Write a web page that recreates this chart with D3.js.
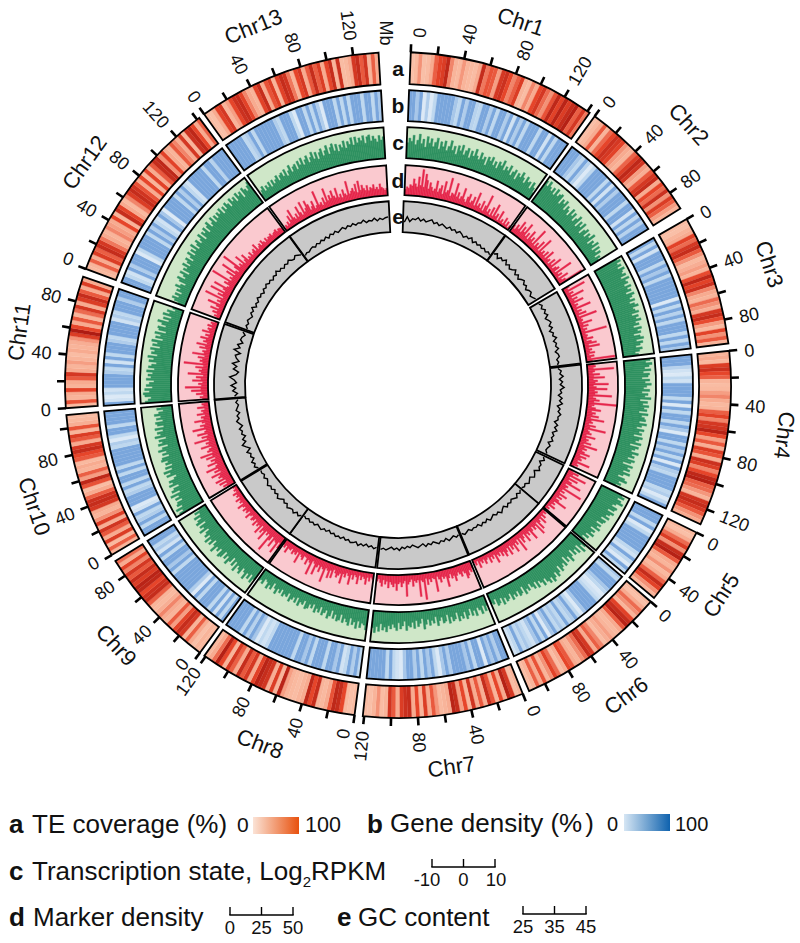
<!DOCTYPE html>
<html><head><meta charset="utf-8">
<script src="https://cdn.jsdelivr.net/npm/d3@7"></script>
<style>html,body{margin:0;padding:0;background:#fff}svg{display:block;font-family:"Liberation Sans",Arial,sans-serif;fill:#111}</style>
</head><body><svg id="c" width="800" height="943"></svg>
<script>
const chrNames=["Chr1","Chr2","Chr3","Chr4","Chr5","Chr6","Chr7","Chr8","Chr9","Chr10","Chr11","Chr12","Chr13"];
const chrLengths=[142,94,98,132,58,113,121,121,93,110,99,142,139];
const trackLetters=["a","b","c","d","e"];

const teCoverage=[
[18,22,40,18,20,30,60,72,75,88,45,25,22,38,25,22,20,30,85,50,65,62,35,78,82,70,45,60,75,25,20,45,30,70,78,55,40,65,88,72,90,75,85,92,60,78,50],
[18,22,30,62,25,55,70,82,78,72,40,30,25,58,75,88,80,35,28,62,78,85,30,70,55,82,40,75,60,35,25],
[20,18,25,30,72,55,78,85,62,40,22,28,35,25,68,88,72,82,45,30,25,55,40,28,78,85,68,35,22,72,40,62,25],
[25,30,22,75,82,70,60,25,20,22,35,45,30,22,25,60,72,45,78,80,90,70,35,62,28,75,65,30,82,75,45,70,88,92,60,55,38,25,80,85,78,62,40,30],
[22,18,30,55,75,40,85,92,62,30,25,40,22,30,60,85,72,40,25],
[22,18,30,55,40,25,72,85,90,62,30,22,25,35,28,20,45,60,30,78,85,55,40,25,30,62,70,28,20,55,72,40,25,65,30,60,25,20],
[25,20,78,92,30,70,25,65,85,28,62,30,80,25,70,35,85,90,30,25,22,38,62,30,75,25,70,30,85,82,75,30,62,80,25,20,40,25,18,20],
[20,18,22,70,85,88,65,30,22,25,85,70,88,30,25,20,22,25,35,90,25,75,28,80,85,90,72,30,78,62,85,30,60,78,25,70,92,55,30,22],
[22,25,18,30,60,25,78,85,72,35,62,25,30,45,28,22,25,60,85,82,70,88,90,75,85,62,78,45,72,30,55],
[25,60,22,75,30,62,80,28,75,40,25,30,78,85,82,60,30,20,65,88,35,60,25,30,22,62,70,85,78,30,62,75,25,65,28,22,20],
[20,65,25,30,72,25,30,62,78,30,25,35,25,20,30,25,28,40,75,95,70,30,62,25,55,78,30,75,85,62,30,75,30],
[22,25,60,30,75,60,85,78,50,30,25,45,35,30,70,25,85,72,30,22,45,75,85,80,65,30,70,25,72,30,62,85,88,40,72,30,25,62,45,30,78,25,82,88,70,30,60],
[20,18,30,72,78,25,35,70,82,85,72,45,30,25,72,85,30,65,75,25,72,85,80,50,25,70,78,30,62,85,60,75,30,70,85,25,82,20,22,30,78,85,62,80,25,60,30]];

const geneDensity=[
[60,60,30,60,10,25,10,15,60,62,60,62,60,30,15,60,25,60,60,20,15,60,62,25,60,15,60,60,25,60,12,60,25,60,15,60,60,60,15,60,60,12,60,15,60,60,60],
[60,62,60,30,15,60,20,10,15,60,62,60,60,15,60,12,60,25,60,62,60,15,60,60,12,60,15,60,20,60,60],
[60,15,60,12,60,60,60,15,60,30,60,15,60,62,60,62,60,60,10,60,15,60,20,60,15,60,60,60,15,60,15,60,30],
[60,60,62,20,12,10,15,12,60,62,60,60,15,60,10,60,15,60,62,15,60,30,10,60,60,15,60,25,60,15,60,10,60,25,15,60,60,62,60,15,25,10,15,60],
[60,62,60,15,60,10,15,60,60,62,60,62,15,12,60,15,10,60,15],
[30,15,60,60,62,30,15,10,12,15,60,62,60,60,30,10,15,60,25,15,60,15,30,15,60,30,10,60,15,60,30,12,15,30,15,60,15,12],
[60,62,25,60,30,60,10,60,62,15,60,30,60,60,62,60,25,60,30,10,15,60,30,60,15,60,25,60,60,30,10,12,15,60,15,60,60,62,60,60],
[15,60,25,60,15,12,60,30,60,60,15,60,60,62,15,60,30,60,60,15,60,60,62,60,60,62,60,15,12,15,10,30,60,20,60,15,60,60,60,62],
[60,15,60,12,60,15,60,60,62,15,60,10,25,60,62,60,60,62,60,15,60,30,60,60,15,60,12,30,15,60,60],
[60,60,15,60,25,15,60,12,10,60,60,62,25,15,60,15,60,60,15,60,15,60,60,62,60,60,15,25,10,15,60,60,15,60,60,62,60],
[60,12,10,15,12,60,60,62,60,25,15,60,12,60,15,60,60,62,25,15,60,60,62,60,12,25,15,60,60,60,25,60,60],
[60,60,15,12,60,25,60,62,60,10,15,60,60,62,60,15,60,25,60,15,12,60,30,10,60,60,62,60,15,60,25,60,15,12,60,60,62,60,60,15,60,62,20,60,62,60,60],
[60,60,62,60,60,15,25,60,15,60,60,62,60,62,60,25,15,60,60,62,15,10,60,60,15,60,15,60,25,10,60,62,60,15,60,15,60,15,60,60,62,15,60,60,15,60,30]];

const transcription=[
[0,3,1,5,-1,2,6,0,3,-2,5,1,4,-1,2,5,-2,3,0,4,-2,1,5,-1,2,-3,3,0,4,-2,1,3,-3,2,-1,4,0,-2,3,-1,1,-4,2,0,3,-2,1,-3,2,0,4,-2,1,-1,3,-3,0,2,-4,1,-1,3,0,-3,2,-1,0,-4,1,-2,-5],
[7,4,8,5,3,6,2,7,3,5,6,0,4,2,5,-1,3,1,-2,4,0,3,-2,1,4,-3,2,-1,3,-4,0,2,-3,1,-1,3,-4,0,-2,2,-4,1,-3,0,-5,-2,-4],
[6,8,5,7,4,8,6,5,7,3,8,5,6,3,7,4,6,2,7,5,3,6,2,5,7,3,4,6,1,5,3,6,2,4,0,5,2,4,-1,3,5,0,4,2,-1,3,1,-2,0],
[7,4,8,6,3,7,2,6,5,1,6,3,7,4,2,6,1,5,3,7,0,5,2,6,3,5,0,6,2,4,5,1,6,3,0,5,2,4,-1,5,3,1,5,-2,4,2,0,5,1,3,-1,4,2,-3,4,1,3,-1,4,0,-3,2,4,-1,1,-2],
[5,7,3,6,8,4,2,6,5,1,6,4,2,5,0,4,3,-1,3,1,4,-2,2,0,3,-2,1,-3,0],
[3,0,5,-2,3,-1,2,-3,1,4,-1,2,-3,3,0,2,4,-1,3,5,1,4,6,2,5,3,0,4,1,-1,3,-2,2,0,-3,1,-1,2,-4,0,1,-3,0,-2,1,-4,-1,0,-3,1,-4,-1,0,-5,-2,-3],
[-3,0,-4,1,-2,-4,1,-3,0,-5,-1,1,-4,0,-2,1,-5,-1,0,-3,1,-5,-1,0,-4,-2,1,-5,-1,-3,0,-4,-1,2,-5,-2,0,-4,1,-3,0,-1,2,-4,-1,1,-3,2,0,-2,1,-1,3,0,2,-2,3,0,4,1],
[3,0,-1,2,-2,3,-1,1,-3,2,0,-2,1,-4,0,1,-3,0,-5,-1,1,-4,-2,0,-5,-1,-3,0,-5,-2,-4,-1,0,-5,-2,-3,0,-5,-1,-4,-2,0,-5,-2,-3,-1,-5,-2,-4,0,-3,-6,-1,-3,0,-4,-5,-1,-3,-2],
[0,3,-2,2,-1,4,0,-2,3,1,-1,4,-2,2,-3,1,4,-1,2,-2,3,4,-1,2,0,5,1,-2,3,0,4,-1,2,0,-3,3,-1,1,-4,2,0,-3,1,-4,-1,-5],
[7,4,8,3,6,5,1,5,2,7,0,5,3,-1,5,2,4,0,-2,4,1,5,-1,3,-2,2,0,4,3,-2,2,-1,4,1,-3,3,0,2,-3,4,0,2,-2,3,-3,1,2,-3,1,-2,2,-1,-4,0,-3],
[7,5,3,7,8,4,7,2,6,4,1,6,3,5,2,6,1,5,3,0,5,2,6,0,4,2,5,-1,4,1,5,-2,3,0,4,-3,2,3,-2,1,4,-3,1,-4,2,-2,0,-5,-3],
[-5,-2,0,-4,-1,-5,-1,-3,1,-2,-5,0,2,-3,-1,2,-4,1,-1,3,-2,1,3,-2,1,4,-1,3,0,5,-1,2,4,0,2,5,-1,4,2,5,0,4,6,1,3,6,1,5,2,5,3,6,1,5,2,6,4,1,6,3,5,1,6,3,5,0,6,4,2,5,7],
[-5,-3,-1,-5,-2,-4,-1,-5,-1,-4,-2,0,-4,-1,0,-3,1,-4,-1,2,-3,0,1,-3,2,-1,3,-2,1,3,-2,1,4,-1,3,-2,2,4,-1,2,5,-1,3,5,0,4,-1,3,1,5,0,4,2,6,1,6,2,5,3,6,1,5,6,2,5,3,1,5,2,4]];

const markerDensity=[
[10,14,12,18,16,28,20,15,32,18,45,16,38,28,14,25,18,12,16,30,12,18,24,10,32,14,18,40,10,16,14,34,12,20,10,15,30,12,8,18,24,10,14,22,8,32,10,15,8,22,6,16,36,8,14,5,20,6,28,8,14,4,22,6,10,4,16,5,12,3,8],
[14,8,18,12,28,10,22,14,32,10,18,8,26,12,18,9,38,8,16,10,24,7,34,9,14,8,18,7,24,9,12,5,18,8,26,6,12,16,6,36,8,14,5,22,8,14,44],
[12,8,38,7,14,8,30,7,16,9,24,7,12,8,32,7,14,8,20,6,36,8,10,7,24,8,16,6,12,8,44,7,10,8,18,6,14,22,8,26,7,12,8,16,6,14,8,48,10],
[12,14,10,44,12,8,20,10,28,9,16,12,34,9,14,32,11,16,12,40,9,14,20,11,50,12,8,15,24,9,16,11,22,9,32,11,14,8,20,11,38,9,12,16,8,24,9,14,11,20,8,32,11,16,9,14,24,8,20,11,14,8,30,9,12,6],
[8,20,11,36,8,24,9,16,34,8,14,11,42,8,14,7,22,9,16,7,14,30,8,12,7,16,5,9,4],
[6,10,6,14,7,20,8,12,24,8,30,11,16,8,14,28,10,16,11,24,8,14,20,9,32,8,16,11,26,12,18,9,24,10,16,22,12,18,9,15,11,24,8,14,9,18,7,10,16,7,12,8,18,5,11,6],
[12,18,14,22,26,16,12,20,15,11,16,24,14,18,10,16,30,12,15,11,20,14,9,34,12,10,16,11,20,9,44,14,11,38,10,14,11,20,8,12,16,36,10,14,20,12,15,26,14,20,16,12,22,11,16,9,20,14,8,12],
[10,7,14,8,20,11,8,14,7,22,11,8,16,9,26,12,8,16,11,28,12,16,20,14,9,24,12,26,14,11,36,15,12,22,11,16,30,12,9,34,14,11,20,9,8,16,12,9,26,8,14,11,16,8,12,11,20,9,14,10],
[22,12,34,16,14,28,11,20,42,12,16,11,30,14,20,9,26,12,16,11,20,9,14,16,9,12,20,8,14,11,16,9,12,20,8,12,9,16,7,11,8,14,6,9,5,8],
[14,20,12,24,11,28,14,20,16,30,12,22,14,34,16,12,28,14,20,11,26,14,34,12,20,16,11,28,14,18,12,36,14,22,11,28,15,12,34,14,20,11,16,28,12,16,9,22,11,14,8,20,9,12,7],
[10,14,8,20,11,28,12,38,11,16,9,26,12,20,8,34,12,16,11,22,9,42,11,16,12,20,9,30,11,14,8,20,11,26,9,16,12,22,9,15,8,22,11,14,8,16,9,12,6],
[6,11,7,16,9,22,8,14,30,9,16,11,40,9,20,12,36,11,16,34,12,9,20,14,46,11,16,12,26,11,38,14,9,20,44,12,16,11,28,9,14,22,8,12,9,16,8,12,15,9,20,8,11,14,9,16,11,8,14,9,12,11,14,9,11,12,14,9,12,11,9],
[5,9,6,12,7,20,11,28,12,8,16,9,26,14,8,30,11,16,28,20,9,14,22,8,12,36,11,14,8,20,11,34,12,20,14,26,16,12,28,11,16,9,22,14,11,34,12,16,20,14,26,11,30,14,22,16,12,20,11,16,14,20,12,15,11,20,14,12,9,12]];

const gcContent=[
[31.5,35,32,34,33.5,35,33,34.5,33,34,35,33,34,32.5,34,33,32,33.5,32,33,31.5,33,32,30.5,32,31,32.5,30,31.5,30,31,29.5,30.5,29,30,29],
[31,32.5,30,32,31,33,30.5,32,30,31,32.5,30,31.5,29.5,31,32,30,31,29,30.5,31,29,30,31],
[31,32.5,31,33,31.5,33,30.5,32,33,31,32.5,30,32,31,33,30.5,32,31,32.5,30,31.5,32,30,31,30],
[30,32,31,33,30.5,32.5,31,33.5,31,32,30,32.5,31,33,30,32,31,33,31.5,32,30,32.5,31,33,30.5,32,31,32.5,30,32,31,30.5,32],
[31,32.5,30,32,31.5,33,30,31.5,32.5,30,31,32,30,31,30],
[30,31.5,30,32,31,30,31.5,30.5,32,30,31,32.5,30.5,31.5,30,31,32,30,31.5,30.5,32,30,31,30.5,31.5,30,31,32,30.5],
[30.5,31.5,30,31,32,30,31.5,30.5,32,31,30,31.5,30.5,32,30,31,32,31,30,31.5,30.5,32,31,33,31.5,32.5,31,32,33,32,33],
[32,33,31.5,32.5,31,32.5,31.5,33,31,32,32.5,31,32,30.5,32,31,32,30.5,31.5,30,31.5,30.5,32,31,30,31.5,30.5,31.5,30,31,30],
[31,32.5,31,33,31.5,32,33,31,32,30.5,32,33,31,32,30.5,32,31,32.5,31,30,31.5,30,31,30.5],
[31,33,31.5,33,30.5,32,31,33,30,32,34,31,32.5,30,32,31,32.5,30,31.5,33,31,32,30,32,31,30,31.5,30],
[32,30,33,31,34,30.5,32,35,31,29.5,33,31,34,30,32,33,30,34.5,31,33,30,32,31.5,30,32],
[30,31.5,30.5,32,31,30,32,31,33,30.5,32,31,33,31.5,32.5,31,33,32,33.5,32,33,31.5,33,32,34,32,33,31.5,33,32,33.5,32,31.5,33,32,31],
[29,30,29.5,30.5,31,30,31.5,30.5,32,31,32.5,31,33,32,33.5,32,33,34,32.5,34,33,34.5,33,34,33.5,35,33,34,33.5,35,33,34.5,33.5,34.5,35]];

const tickStep=20, labelStep=40;
const cx=398, cy=385;
const rings=[[301,333],[264,295],[227,258],[190,220],[153,184]];
const ringHalfGap=[.55,.5,.42,.3,.1];
const chrStartDeg=[2.2,36.2,60.1,84.1,116.3,130.6,158,187.5,216.5,239.3,266,290.4,324.4];
const zeroLabelShift=[1.3,.5,.5,.2,.5,.2,-.7,1.5,1.3,.4,0,.6,.4];
const nameShift=[0,1,.5,-2,0,0,0,-.5,0,-.5,.5,-1.5,-2.5];
const nameRadius=[384,391,391,390,385,385,385,384,383,383,383,385,387];
const degPerMb=.232;
const rad=d=>d*Math.PI/180;
const svg=d3.select("#c");
const g=svg.append("g").attr("transform",`translate(${cx},${cy})`);

const teColor=d3.scaleLinear().domain([10,30,70,100]).range(["#fbcdb6","#f7ab90","#e6452a","#a3140e"]).clamp(true);
const geneColor=d3.scaleLinear().domain([10,15,60]).range(["#dce9f6","#bfd8ef","#7aa6dc"]).clamp(true);
const bgColor=["#fff","#fff","#cfe7c8","#fac9cf","#c9c9c9"];
const barColor={2:"#2e9160",3:"#e5274b"};
const arc=d3.arc();

function chrScale(c,k){
  const shift=ringHalfGap[0]-ringHalfGap[k];
  const a0=chrStartDeg[c]-shift, a1=chrStartDeg[c]+chrLengths[c]*degPerMb+shift;
  return d3.scaleLinear().domain([0,chrLengths[c]]).range([rad(a0),rad(a1)]);
}
function binMb(c,i,n){return i/n*chrLengths[c];}

chrNames.forEach((name,c)=>{
  const sg=g.append("g").attr("class","chr");
  rings.forEach((r,k)=>{
    const s=chrScale(c,k);
    sg.append("path").attr("d",arc({innerRadius:r[0],outerRadius:r[1],startAngle:s(0),endAngle:s(chrLengths[c])})).attr("fill",bgColor[k]);
  });
  [[teCoverage,teColor,0],[geneDensity,geneColor,1]].forEach(([tbl,col,k])=>{
    const arr=tbl[c],s=chrScale(c,k),r=rings[k];
    sg.append("g").selectAll("path").data(arr).join("path")
      .attr("d",(v,i)=>arc({innerRadius:r[0],outerRadius:r[1],startAngle:s(binMb(c,i,arr.length)),endAngle:s(binMb(c,i+1,arr.length))}))
      .attr("fill",v=>col(v)).attr("stroke",v=>col(v)).attr("stroke-width",.3);
  });
  [[transcription,[-10,10],2],[markerDensity,[0,50],3]].forEach(([tbl,dom,k])=>{
    const arr=tbl[c],s=chrScale(c,k),r=rings[k];
    const rs=d3.scaleLinear().domain(dom).range(r);
    sg.append("g").selectAll("path").data(arr).join("path")
      .attr("d",(v,i)=>arc({innerRadius:r[0],outerRadius:rs(v),startAngle:s(binMb(c,i,arr.length)),endAngle:s(binMb(c,i+1,arr.length))}))
      .attr("fill",barColor[k]).attr("stroke",barColor[k]).attr("stroke-width",.4);
  });
  {
    const arr=gcContent[c],s=chrScale(c,4),r=rings[4];
    const rs=d3.scaleLinear().domain([25,45]).range(r);
    const pts=arr.map((v,i)=>[s(binMb(c,i+.5,arr.length)),rs(v)]);
    sg.append("path").attr("d",d3.lineRadial()(pts)).attr("fill","none").attr("stroke","#000").attr("stroke-width",1.4);
  }
  rings.forEach((r,k)=>{
    const s=chrScale(c,k);
    sg.append("path").attr("d",arc({innerRadius:r[0],outerRadius:r[1],startAngle:s(0),endAngle:s(chrLengths[c])})).attr("fill","none").attr("stroke","#000").attr("stroke-width",1.8).attr("stroke-linejoin","miter");
  });
  const s=chrScale(c,0), R=rings[0][1];
  d3.range(0,chrLengths[c]+.01,tickStep).forEach(t=>{
    const a=s(t),sx=Math.sin(a),cy_=-Math.cos(a);
    sg.append("line").attr("x1",sx*R).attr("y1",cy_*R).attr("x2",sx*(R+8)).attr("y2",cy_*(R+8)).attr("stroke","#000").attr("stroke-width",2.6);
    if(t%labelStep===0){
      const la=a+(t===0?rad(zeroLabelShift[c]):0);
      const deg=a*180/Math.PI, right=deg<180;
      const rot=right?deg-90:deg+90;
      sg.append("text").attr("transform",`translate(${Math.sin(la)*(R+15)},${-Math.cos(la)*(R+15)}) rotate(${rot})`)
        .attr("text-anchor",right?"start":"end").attr("dy",".36em").attr("font-size",18).text(t);
    }
  });
  const mid=(s(0)+s(chrLengths[c]))/2+rad(nameShift[c]), deg=mid*180/Math.PI, Rn=nameRadius[c];
  const rot=(deg<110)?deg:(deg<270?deg-180:deg-360);
  g.append("text").attr("transform",`translate(${Math.sin(mid)*Rn},${-Math.cos(mid)*Rn}) rotate(${rot})`)
    .attr("text-anchor","middle").attr("dy",".36em").attr("font-size",22).text(name);
});

trackLetters.forEach((t,k)=>{
  g.append("text").attr("x",0).attr("y",-(rings[k][0]+rings[k][1])/2).attr("dy",".36em").attr("text-anchor","middle")
    .attr("font-size",21).attr("font-weight","bold").text(t);
});
svg.append("text").attr("transform","translate(380,33) rotate(90)").attr("text-anchor","middle").attr("font-size",18).text("Mb");

const defs=svg.append("defs");
function grad(id,c0,c1){const l=defs.append("linearGradient").attr("id",id);l.append("stop").attr("offset",0).attr("stop-color",c0);l.append("stop").attr("offset",1).attr("stop-color",c1);}
grad("gTE","#fbe3d6","#e8510e");grad("gGene","#d6e6f4","#0f62ae");
const lab=(x,y,t,o={})=>svg.append("text").attr("x",x).attr("y",y).attr("font-size",o.s||26).attr("font-weight",o.b?"bold":"normal").attr("text-anchor",o.a||"start").text(t);
lab(9,833,"a",{b:1});lab(32,833,"TE coverage (%)");
lab(237,832,"0",{s:21});svg.append("rect").attr("x",253).attr("y",817).attr("width",46).attr("height",17).attr("fill","url(#gTE)");lab(305,832,"100",{s:21.5});
lab(367,833,"b",{b:1});
const gd=lab(390,832,"Gene density (%");gd.append("tspan").attr("dx",3).text(")");
lab(607,831,"0",{s:20});svg.append("rect").attr("x",624).attr("y",814).attr("width",46).attr("height",17).attr("fill","url(#gGene)");lab(675,831,"100",{s:20});
lab(9,880,"c",{b:1});
const tc=lab(32,880,"Transcription state, Log");tc.append("tspan").attr("dy",7).attr("font-size",15).text("2");tc.append("tspan").attr("dy",-7).text("RPKM");
lab(9,926,"d",{b:1});lab(33,926,"Marker density");
lab(337,926,"e",{b:1});lab(358,926,"GC content");

function miniAxis(x0,x1,dom,vals,y,base,lblOff=[0,0,0]){
  const s=d3.scaleLinear().domain(dom).range([x0,x1]);
  const a=svg.append("g");
  a.append("line").attr("x1",x0-.7).attr("x2",x1+.7).attr("y1",y).attr("y2",y).attr("stroke","#000").attr("stroke-width",1.4);
  vals.forEach((v,i)=>{
    a.append("line").attr("x1",s(v)).attr("x2",s(v)).attr("y1",y).attr("y2",y-8).attr("stroke","#000").attr("stroke-width",1.4);
    a.append("text").attr("x",s(v)+lblOff[i]).attr("y",base).attr("text-anchor","middle").attr("font-size",18.5).text(v);
  });
}
miniAxis(432,495,[-10,10],[-10,0,10],867,886,[-5,0,1]);
miniAxis(230,293,[0,50],[0,25,50],915,934);
miniAxis(523,586,[25,45],[25,35,45],914,933);
</script></body></html>
